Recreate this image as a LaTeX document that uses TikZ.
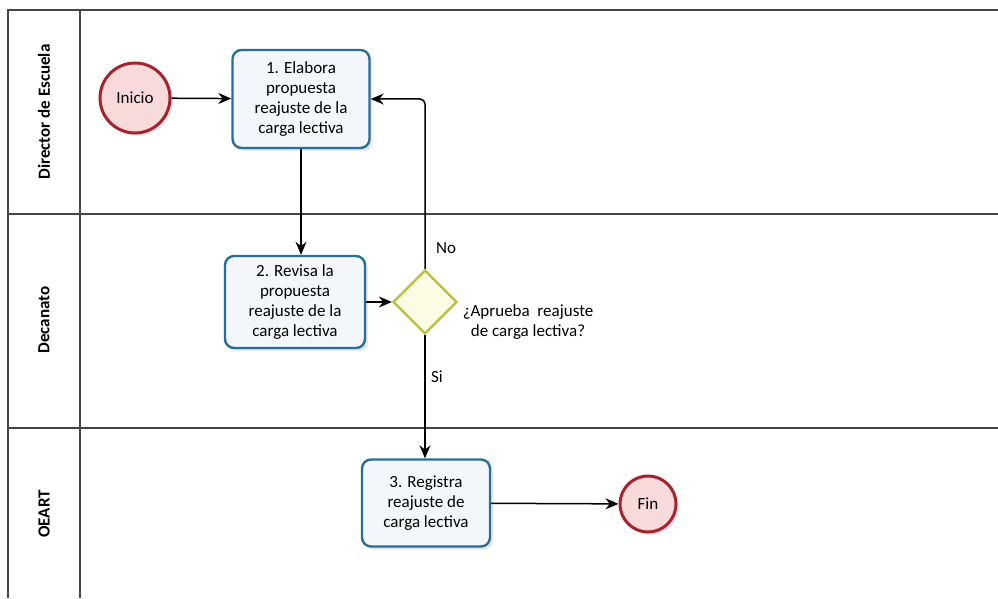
\documentclass[tikz,border=0pt]{standalone}
\usepackage{fontspec}
\setmainfont{Carlito}
\usetikzlibrary{shapes.geometric,arrows.meta,shadows}

\definecolor{taskborder}{RGB}{40,110,150}
\definecolor{taskfill}{RGB}{243,247,252}
\definecolor{eventborder}{RGB}{165,35,45}
\definecolor{eventfill}{RGB}{248,218,218}
\definecolor{gateborder}{RGB}{185,190,60}
\definecolor{gatefill}{RGB}{252,252,228}
\definecolor{lanegray}{RGB}{70,70,70}

\begin{document}
\begin{tikzpicture}[x=1pt, y=1pt,
    task/.style={rectangle, rounded corners=9pt, draw=taskborder, line width=2.4pt, fill=taskfill, align=center, inner sep=0pt, font=\fontsize{17}{20}\selectfont, drop shadow={opacity=0.2, shadow xshift=3pt, shadow yshift=-3pt}},
    event/.style={circle, draw=eventborder, line width=3pt, fill=eventfill, inner sep=0pt, font=\fontsize{17}{20}\selectfont, drop shadow={opacity=0.2, shadow xshift=3pt, shadow yshift=-3pt}},
    gateway/.style={diamond, draw=gateborder, line width=2.2pt, fill=gatefill, minimum width=64pt, minimum height=64pt, inner sep=0pt},
    lanetitle/.style={rotate=90, font=\bfseries\fontsize{17}{20}\selectfont},
    flowtext/.style={align=center, font=\fontsize{17}{20}\selectfont},
    flow/.style={-{Stealth[length=13pt, width=11pt]}, line width=1.5pt},
    lane/.style={draw=lanegray, line width=1.6pt}]

    \useasboundingbox (0,0) rectangle (998,598);

    % Draw the pool and the three lanes
    \draw[lane] (998,588) -- (8,588) -- (8,0);
    \draw[lane] (80,588) -- (80,0);
    \draw[lane] (8,384) -- (998,384);
    \draw[lane] (8,170) -- (998,170);

    \node[lanetitle] (LDir) at (44,486) {Director de Escuela};
    \node[lanetitle] (LDec) at (44,278) {Decanato};
    \node[lanetitle] (LOea) at (44,84) {OEART};

    % Draw the events, tasks and the gateway
    \node[event, minimum size=70pt] (Ini) at (135,500) {Inicio};
    \node[task, minimum width=137pt, minimum height=98pt] (T1) at (301,499) {1. Elabora\\propuesta\\reajuste de la\\carga lectiva};
    \node[task, minimum width=140pt, minimum height=92pt] (T2) at (295,296) {2. Revisa la\\propuesta\\reajuste de la\\carga lectiva};
    \node[gateway] (G) at (425,296) {};
    \node[flowtext] (Q) at (528,276) {¿Aprueba\ \ reajuste\\de carga lectiva?};
    \node[task, minimum width=128pt, minimum height=87pt] (T3) at (426,95) {3. Registra\\reajuste de\\carga lectiva};
    \node[event, minimum size=56pt] (Fin) at (648,94) {Fin};

    \node[flowtext] (No) at (446,350) {No};
    \node[flowtext] (Si) at (437,221) {Si};

    % Draw the sequence flows
    \path[flow] (Ini) edge (T1);
    \draw[flow] (T1.south) -- (T1.south |- T2.north);
    \path[flow] (T2) edge (G);
    \draw[flow, rounded corners=5pt] (G.north) |- (T1.east);
    \draw[flow] (G.south) -- (G.south |- T3.north);
    \path[flow] (T3) edge (Fin);
\end{tikzpicture}
\end{document}
